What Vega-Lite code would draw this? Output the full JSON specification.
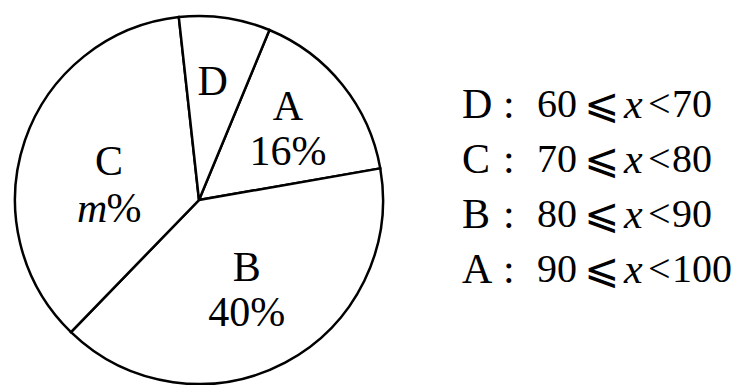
{
  "$schema": "https://vega.github.io/schema/vega-lite/v6.json",
  "padding": 0,
  "spacing": 0,
  "background": "white",
  "config": {
    "view": {"stroke": null},
    "text": {"font": "Liberation Serif", "fontSize": 42, "fill": "black"}
  },
  "data": {
    "values": [
      {"cat": "A", "value": 16, "t1": "A", "t2": "16%", "ct1": "", "cm": "", "cp": "", "lo": "90", "hi": "100"},
      {"cat": "B", "value": 40, "t1": "B", "t2": "40%", "ct1": "", "cm": "", "cp": "", "lo": "80", "hi": "90"},
      {"cat": "C", "value": 36, "t1": "", "t2": "", "ct1": "C", "cm": "m", "cp": "%", "lo": "70", "hi": "80"},
      {"cat": "D", "value": 8, "t1": "D", "t2": "", "ct1": "", "cm": "", "cp": "", "lo": "60", "hi": "70"}
    ]
  },
  "hconcat": [
    {
      "width": 398,
      "height": 400,
      "encoding": {
        "theta": {"field": "value", "type": "quantitative", "stack": true, "scale": {"type": "linear", "domain": [0, 100], "range": [0.3927, 6.6759]}},
        "detail": {"field": "cat", "type": "nominal"},
        "order": {"field": "cat", "type": "ordinal", "sort": "ascending"}
      },
      "layer": [
        {"mark": {"type": "arc", "outerRadius": 184, "fill": "white", "stroke": "black", "strokeWidth": 2.5}},
        {"mark": {"type": "text", "radius": {"expr": "datum.cat === 'A' ? 114 : datum.cat === 'B' ? 102 : 97"}, "dy": -22}, "encoding": {"text": {"field": "t1"}}},
        {"mark": {"type": "text", "radius": {"expr": "datum.cat === 'A' ? 114 : datum.cat === 'B' ? 102 : 97"}, "dy": 23}, "encoding": {"text": {"field": "t2"}}},
        {"mark": {"type": "text", "radius": 95, "dy": -7}, "encoding": {"text": {"field": "ct1"}}},
        {"mark": {"type": "text", "radius": 95, "dy": 40, "dx": -17, "fontStyle": "italic"}, "encoding": {"text": {"field": "cm"}}},
        {"mark": {"type": "text", "radius": 95, "dy": 40, "dx": 15}, "encoding": {"text": {"field": "cp"}}}
      ]
    },
    {
      "width": 128,
      "height": 400,
      "encoding": {
        "y": {"field": "cat", "type": "nominal", "sort": ["D", "C", "B", "A"], "scale": {"type": "point", "range": [105, 270], "padding": 0}, "axis": null}
      },
      "layer": [
        {"mark": {"type": "text", "align": "left", "dx": 0}, "encoding": {"text": {"field": "cat"}}},
        {"mark": {"type": "text", "align": "left", "dx": 41, "text": ":"}},
        {"mark": {"type": "text", "align": "left", "dx": 75, "fontSize": 40}, "encoding": {"text": {"field": "lo"}}},
        {"mark": {"type": "text", "align": "left", "dx": 122, "text": "⩽", "font": "DejaVu Sans", "fontSize": 42}},
        {"mark": {"type": "text", "align": "left", "dx": 162, "text": "x", "fontStyle": "italic"}},
        {"mark": {"type": "text", "align": "left", "dx": 186, "text": "<", "fontSize": 40}},
        {"mark": {"type": "text", "align": "left", "dx": 210, "fontSize": 40}, "encoding": {"text": {"field": "hi"}}}
      ]
    }
  ]
}
